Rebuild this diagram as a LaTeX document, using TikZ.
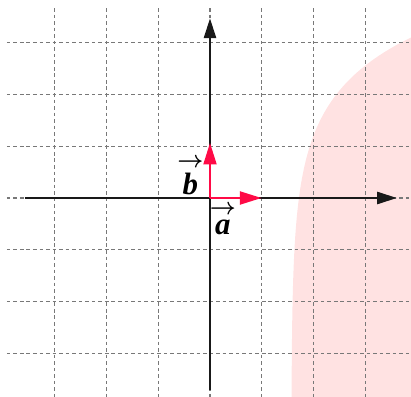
\documentclass[tikz,border=0pt]{standalone}
\usepackage{amsmath}
\usepackage{fontspec}
\setmainfont{Liberation Serif}
\usetikzlibrary{arrows.meta}
\definecolor{vecred}{RGB}{255,10,70}
\definecolor{regpink}{RGB}{255,226,226}
\definecolor{gridgray}{RGB}{120,120,120}
\definecolor{axisblack}{RGB}{25,25,25}
\newcommand{\vlab}[1]{$\overset{\raisebox{-0.5pt}{\scalebox{0.72}[0.75]{\boldmath$\rightarrow$}}}{\text{\bfseries\itshape #1}}$}
\tikzset{
  gridline/.style={draw=gridgray, line width=0.6pt, dash pattern=on 2pt off 1.6pt},
  axisline/.style={draw=axisblack, line width=1.6pt, -{Triangle[length=11pt,width=6.5pt]}},
  vecline/.style={draw=vecred, line width=1.6pt, -{Triangle[length=12pt,width=7pt]}},
  veclabel/.style={inner sep=0pt, font=\fontsize{17}{19}\selectfont}
}
\begin{document}
\begin{tikzpicture}
\useasboundingbox (-4.062,-3.830) rectangle (3.888,3.830);
\clip (-4.062,-3.830) rectangle (3.888,3.830);
% shaded region
\fill[regpink] plot[domain=-3.95:3.25, samples=100, variable=\t] ({1.573+0.147*exp(0.888*\t)},\t)
  -- (4.3,3.25) -- (4.3,-3.95) -- cycle;
% grid
\foreach \x in {-3,...,3} \draw[gridline] (\x,3.675) -- (\x,-3.9);
\foreach \y in {-3,...,3} \draw[gridline] (-3.93,\y) -- (3.95,\y);
% coordinates
\coordinate (O) at (0,0);
\coordinate (xl) at (-3.58,0);
\coordinate (xr) at (3.62,0);
\coordinate (yb) at (0,-3.71);
\coordinate (yt) at (0,3.48);
\coordinate (A) at (1.0,0);
\coordinate (B) at (0,1.07);
% axes
\draw[axisline] (xl) -- (xr);
\draw[axisline] (yb) -- (yt);
% vectors
\draw[vecline] (O) -- (A);
\draw[vecline] (O) -- (B);
\node[veclabel] (la) at (0.25,-0.40) {\vlab{a}};
\node[veclabel] (lb) at (-0.38,0.44) {\vlab{b}};
\end{tikzpicture}
\end{document}
